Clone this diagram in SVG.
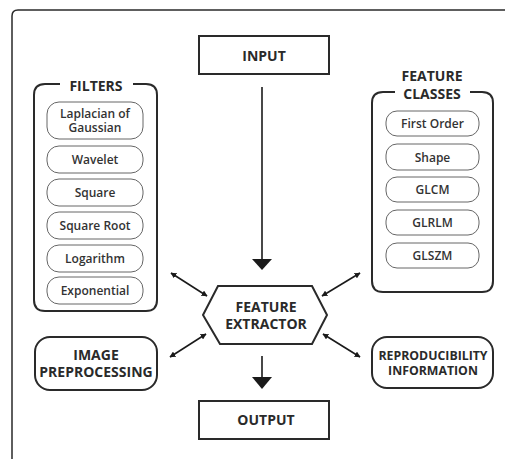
<svg xmlns="http://www.w3.org/2000/svg" width="505" height="459" viewBox="0 0 505 459">
<style>
.bold{font-family:"Open Sans","Liberation Sans",sans-serif;font-weight:bold;font-size:14px;fill:#2a2a2a;text-anchor:middle}
.reg{font-family:"Open Sans","Liberation Sans",sans-serif;font-weight:600;font-size:12px;fill:#333;text-anchor:middle}
.main{fill:#fff;stroke:#2a2a2a;stroke-width:2}
.grp{fill:none;stroke:#2a2a2a;stroke-width:2}
.inner{fill:#fff;stroke:#666;stroke-width:1}
.conn{stroke:#1a1a1a;stroke-width:1.6;fill:none}
</style>
<defs>
<marker id="sa" viewBox="0 0 10 10" refX="9" refY="5" markerWidth="6" markerHeight="6" orient="auto-start-reverse" markerUnits="userSpaceOnUse">
<path d="M0,0 L10,5 L0,10 z" fill="#1a1a1a"/>
</marker>
</defs>
<rect width="505" height="459" fill="#fff"/>
<path d="M12,459 V16 Q12,10 18,10 H505" fill="none" stroke="#2a2a2a" stroke-width="1.5"/>

<g id="input">
<rect class="main" x="199" y="36" width="130" height="38"/>
<text class="bold" x="264" y="61">INPUT</text>
</g>

<g id="filters">
<path class="grp" d="M60,84 H45 Q34,84 34,95 V300 Q34,311 45,311 H146 Q157,311 157,300 V95 Q157,84 146,84 H133"/>
<text class="bold" x="96" y="91">FILTERS</text>
<g id="f-log"><rect class="inner" x="47" y="102" width="96" height="37" rx="12"/>
<text class="reg" x="95" y="118">Laplacian of</text><text class="reg" x="95" y="132">Gaussian</text></g>
<g id="f-wavelet"><rect class="inner" x="47" y="146" width="96" height="27" rx="12"/>
<text class="reg" x="95" y="164">Wavelet</text></g>
<g id="f-square"><rect class="inner" x="47" y="179" width="96" height="27" rx="12"/>
<text class="reg" x="95" y="197">Square</text></g>
<g id="f-sqrt"><rect class="inner" x="47" y="212" width="96" height="27" rx="12"/>
<text class="reg" x="95" y="230">Square Root</text></g>
<g id="f-logarithm"><rect class="inner" x="47" y="245" width="96" height="27" rx="12"/>
<text class="reg" x="95" y="263">Logarithm</text></g>
<g id="f-exp"><rect class="inner" x="47" y="277" width="96" height="27" rx="12"/>
<text class="reg" x="95" y="295">Exponential</text></g>
</g>

<g id="feature-classes">
<path class="grp" d="M395,92 H383 Q372,92 372,103 V281 Q372,292 383,292 H482 Q493,292 493,281 V103 Q493,92 482,92 H470"/>
<text class="bold" x="432" y="81">FEATURE</text>
<text class="bold" x="432" y="99">CLASSES</text>
<g id="c-first"><rect class="inner" x="386" y="111" width="93" height="25" rx="11"/>
<text class="reg" x="432.5" y="128">First Order</text></g>
<g id="c-shape"><rect class="inner" x="386" y="144" width="93" height="26" rx="11"/>
<text class="reg" x="432.5" y="161.5">Shape</text></g>
<g id="c-glcm"><rect class="inner" x="386" y="177" width="93" height="25" rx="11"/>
<text class="reg" x="432.5" y="194">GLCM</text></g>
<g id="c-glrlm"><rect class="inner" x="386" y="210" width="93" height="25" rx="11"/>
<text class="reg" x="432.5" y="227">GLRLM</text></g>
<g id="c-glszm"><rect class="inner" x="386" y="243" width="93" height="25" rx="11"/>
<text class="reg" x="432.5" y="260">GLSZM</text></g>
</g>

<g id="extractor">
<polygon class="main" points="218,286 312,286 327,315 312,344 220,344 203,315"/>
<text class="bold" x="266" y="312">FEATURE</text>
<text class="bold" x="266" y="329">EXTRACTOR</text>
</g>

<g id="preprocessing">
<rect class="main" x="35" y="337" width="122" height="53" rx="15"/>
<text class="bold" x="96" y="360">IMAGE</text>
<text class="bold" x="96" y="377">PREPROCESSING</text>
</g>

<g id="reproducibility">
<rect class="main" x="372" y="337" width="121" height="51" rx="15"/>
<text class="bold" x="433" y="360" style="font-size:12.3px">REPRODUCIBILITY</text>
<text class="bold" x="433" y="375" style="font-size:12.3px">INFORMATION</text>
</g>

<g id="output">
<rect class="main" x="199" y="401" width="130" height="38"/>
<text class="bold" x="266" y="425">OUTPUT</text>
</g>

<g id="connectors">
<line class="conn" x1="262" y1="87" x2="262" y2="262"/>
<polygon points="252,259 272,259 262,270" fill="#1a1a1a"/>
<line class="conn" x1="262" y1="356" x2="262" y2="380"/>
<polygon points="252,377 272,377 262,389" fill="#1a1a1a"/>
<line class="conn" x1="171" y1="273" x2="207" y2="296" marker-start="url(#sa)" marker-end="url(#sa)"/>
<line class="conn" x1="360" y1="273" x2="322" y2="296" marker-start="url(#sa)" marker-end="url(#sa)"/>
<line class="conn" x1="206" y1="334" x2="170" y2="357" marker-start="url(#sa)" marker-end="url(#sa)"/>
<line class="conn" x1="323" y1="334" x2="360" y2="357" marker-start="url(#sa)" marker-end="url(#sa)"/>
</g>
</svg>
